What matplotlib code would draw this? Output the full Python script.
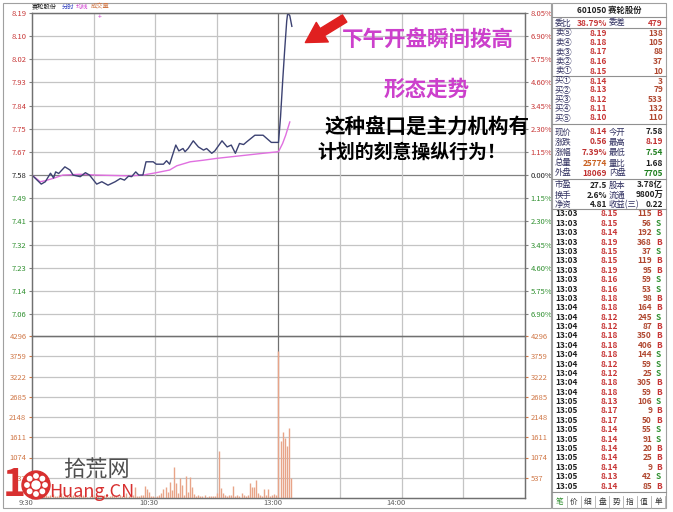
import numpy as np
import matplotlib
matplotlib.use('Agg')
import matplotlib.pyplot as plt
from matplotlib.patches import Rectangle, Circle, FancyArrowPatch
from matplotlib.lines import Line2D
from matplotlib.transforms import Affine2D

plt.rcParams['font.family'] = ['Noto Sans CJK SC', 'DejaVu Sans']

# ---- data ----
prev_close = 7.58
price_min = [0, 4.5, 6.5, 9, 10.5, 11.5, 13, 16, 18.5, 20,
             23.5, 26, 28, 31.5, 34, 37, 40.5, 43, 45, 47,
             48.5, 50.5, 52, 54, 55.5, 59, 60.5, 64, 65.5, 67,
             70, 71.5, 73.5, 74.5, 76, 78.5, 81, 83.5, 85, 87.5,
             89, 92.5, 95, 97, 99, 101, 103, 104.5, 108.5, 112.5,
             116.5, 120, 121, 122, 123, 124, 124.5, 125.5, 126.5]
price_val = [7.58, 7.546, 7.555, 7.587, 7.569, 7.592, 7.586, 7.611, 7.599, 7.58,
             7.574, 7.589, 7.58, 7.546, 7.555, 7.542, 7.555, 7.567, 7.561, 7.576,
             7.574, 7.592, 7.58, 7.58, 7.63, 7.63, 7.621, 7.621, 7.634, 7.621,
             7.693, 7.671, 7.68, 7.668, 7.68, 7.709, 7.686, 7.674, 7.68, 7.662,
             7.671, 7.709, 7.686, 7.693, 7.662, 7.699, 7.695, 7.705, 7.73, 7.73,
             7.703, 7.703, 7.80, 7.93, 8.05, 8.16, 8.19, 8.18, 8.14]
avg_min = [0, 4, 6.5, 10.5, 15, 23.5, 31.5, 47.5, 54, 60.5, 67,
           70.5, 77, 83.5, 90, 99.5, 112.5, 120, 122, 123.5, 125.5]
avg_val = [7.58, 7.555, 7.559, 7.568, 7.58, 7.583, 7.58, 7.577, 7.58, 7.589, 7.599,
           7.615, 7.63, 7.636, 7.643, 7.651, 7.662, 7.668, 7.699, 7.73, 7.78]
volume = [310, 90, 60, 120, 80, 40, 150, 70, 50, 90,
          110, 60, 40, 80, 130, 50, 30, 70, 60, 40,
          90, 50, 30, 60, 40, 80, 50, 30, 60, 100,
          70, 40, 50, 30, 60, 90, 40, 30, 50, 70,
          40, 60, 30, 80, 50, 40, 120, 60, 40, 90,
          280, 60, 40, 90, 70, 320, 250, 170, 60, 40,
          30, 50, 80, 120, 250, 290, 150, 430, 200, 830,
          400, 120, 520, 340, 90, 580, 150, 550, 280, 100,
          60, 80, 50, 40, 70, 30, 60, 50, 40, 60,
          120, 1250, 260, 120, 80, 60, 70, 90, 320, 60,
          90, 50, 120, 80, 60, 70, 390, 280, 290, 480,
          120, 90, 60, 230, 80, 230, 50, 70, 100, 80,
          3900, 1500, 1760, 1580, 1380, 1850, 520]

price_labels = ['8.19', '8.10', '8.02', '7.93', '7.84', '7.75', '7.67', '7.58',
                '7.49', '7.41', '7.32', '7.23', '7.14', '7.06']
pct_labels = ['8.05%', '6.90%', '5.75%', '4.60%', '3.45%', '2.30%', '1.15%', '0.00%',
              '1.15%', '2.30%', '3.45%', '4.60%', '5.75%', '6.90%']
vol_ticks = [537, 1074, 1611, 2148, 2685, 3222, 3759, 4296]
time_labels = ['9:30', '10:30', '13:00', '14:00']
time_pos = [0, 60, 120, 180]

book_names = ['卖⑤', '卖④', '卖③', '卖②', '卖①', '买①', '买②', '买③', '买④', '买⑤']
book_prices = ['8.19', '8.18', '8.17', '8.16', '8.15', '8.14', '8.13', '8.12', '8.11', '8.10']
book_vols = ['138', '105', '88', '37', '10', '3', '79', '533', '132', '110']

info_rows = [('现价', '8.14', '今开', '7.58'),
             ('涨跌', '0.56', '最高', '8.19'),
             ('涨幅', '7.39%', '最低', '7.54'),
             ('总量', '25774', '量比', '1.68'),
             ('外盘', '18069', '内盘', '7705'),
             ('市盈', '27.5', '股本', '3.78亿'),
             ('换手', '2.6%', '流通', '9800万'),
             ('净资', '4.81', '收益(三)', '0.22')]
info_colors = [('#c03030', '#202020'), ('#c03030', '#c03030'), ('#c03030', '#208020'),
               ('#c86020', '#202020'), ('#c03030', '#208020'), ('#202020', '#202020'),
               ('#202020', '#202020'), ('#202020', '#202020')]

trade_time = ['13:03'] * 10 + ['13:04'] * 10 + ['13:05'] * 10
trade_price = ['8.15', '8.15', '8.14', '8.19', '8.15', '8.15', '8.19', '8.16', '8.16', '8.18',
               '8.18', '8.12', '8.12', '8.18', '8.18', '8.18', '8.12', '8.12', '8.18', '8.18',
               '8.13', '8.17', '8.17', '8.14', '8.14', '8.14', '8.14', '8.14', '8.13', '8.14']
trade_vol = ['115', '56', '192', '368', '37', '119', '95', '59', '53', '98',
             '164', '245', '87', '350', '406', '144', '59', '25', '305', '59',
             '106', '9', '50', '55', '91', '20', '25', '9', '42', '85']
trade_side = ['B', 'S', 'S', 'B', 'S', 'B', 'B', 'S', 'S', 'B',
              'B', 'S', 'B', 'B', 'B', 'S', 'S', 'S', 'B', 'B',
              'S', 'B', 'B', 'S', 'S', 'B', 'B', 'B', 'S', 'B']
tabs = ['笔', '价', '细', '盘', '势', '指', '值', '单']

# ---- layout helpers (pixel coords, origin top-left) ----
W, H = 673, 512
tp = Affine2D().scale(1, -1).translate(0, H)


def fx(x):
    return x / W


def fy(y):
    return 1 - y / H


def hline(x0, x1, y, c='#909090', lw=0.8, z=1):
    fig.add_artist(Line2D([x0, x1], [y, y], color=c, lw=lw, transform=tp, zorder=z))


def vline(x, y0, y1, c='#909090', lw=0.8, z=1):
    fig.add_artist(Line2D([x, x], [y0, y1], color=c, lw=lw, transform=tp, zorder=z))


def txt(x, y, s, c='#202020', fs=6, ha='left', **kw):
    fig.text(x, y, s, color=c, fontsize=fs, ha=ha, va='center', transform=tp, **kw)


fig = plt.figure(figsize=(6.73, 5.12), dpi=100)

red = '#c83838'
green = '#309030'
orange = '#d07848'
grid_c = '#c4c4c4'

# ---- price panel ----
steps = list(range(7, -7, -1))
tick_pos = [prev_close * (1 + k * 0.0115) for k in steps]
per_px = (tick_pos[0] - tick_pos[-1]) / (314 - 13)
ylow = tick_pos[-1] - (336 - 314) * per_px

ax = fig.add_axes([fx(32), fy(336), (525 - 32) / W, (336 - 13) / H])
ax.set_xlim(0, 240)
ax.set_ylim(ylow, tick_pos[0])
for t, k in zip(tick_pos, steps):
    ax.axhline(t, color='#808080' if k == 0 else grid_c, lw=0.9, zorder=1)
for m in range(30, 240, 30):
    ax.axvline(m, color='#707070' if m == 120 else grid_c, lw=0.9, zorder=1)
ax.plot(avg_min, avg_val, color='#e070e0', lw=1.0, zorder=3)
ax.plot(price_min, price_val, color='#3c4272', lw=1.0, zorder=4)
ax.set_xticks([])
ax.set_yticks(tick_pos)
ax.set_yticklabels(price_labels)
ax.tick_params(axis='y', labelsize=5.5, length=2, pad=2, color='#808080')
for lab, k in zip(ax.get_yticklabels(), steps):
    lab.set_color(red if k > 0 else ('#202020' if k == 0 else green))
ax2 = ax.twinx()
ax2.set_ylim(ax.get_ylim())
ax2.set_yticks(tick_pos)
ax2.set_yticklabels(pct_labels)
ax2.tick_params(axis='y', labelsize=5.5, length=2, pad=2, color='#808080')
for lab, k in zip(ax2.get_yticklabels(), steps):
    lab.set_color(red if k > 0 else ('#202020' if k == 0 else green))
for a in (ax, ax2):
    for s in a.spines.values():
        s.set_color('#707070')
        s.set_linewidth(0.9)
    a.spines['bottom'].set_visible(False)

# ---- volume panel ----
axv = fig.add_axes([fx(32), fy(498), (525 - 32) / W, (498 - 336) / H])
axv.set_xlim(0, 240)
axv.set_ylim(0, 4296)
for t in vol_ticks:
    axv.axhline(t, color=grid_c, lw=0.9, zorder=1)
for m in range(30, 240, 30):
    axv.axvline(m, color='#707070' if m == 120 else grid_c, lw=0.9, zorder=1)
axv.vlines(np.arange(len(volume)), 0, volume, color='#e8a488', lw=1.0, zorder=3)
axv.set_xticks([])
axv.set_yticks(vol_ticks)
axv.set_yticklabels([str(v) for v in vol_ticks])
axv.tick_params(axis='y', labelsize=5.5, length=2, pad=2, colors=orange)
axv2 = axv.twinx()
axv2.set_ylim(0, 4296)
axv2.set_yticks(vol_ticks)
axv2.set_yticklabels([str(v) for v in vol_ticks])
axv2.tick_params(axis='y', labelsize=5.5, length=2, pad=2, colors=orange)
for a in (axv, axv2):
    for s in a.spines.values():
        s.set_color('#707070')
        s.set_linewidth(0.9)
axv.spines['top'].set_color('#505050')

for lab, m in zip(time_labels, time_pos):
    txt(32 + m * 493 / 240 - 6, 503, lab, c='#606060', fs=5.5, ha='center')

# ---- headers above chart ----
txt(32, 7, '赛轮股份', fs=4.5)
txt(62, 7, '分时', c='#3040c0', fs=4.5)
txt(76, 7, '均线', c='#d040d0', fs=4.5)
txt(91, 7, '成交量', c=orange, fs=4.5)
txt(100, 17, '+', c='#d040d0', fs=5, ha='center')

# ---- frames ----
fig.add_artist(Rectangle((3, 3), 548, 505, fill=False, ec='#a0a0a0', lw=0.8, transform=tp))
fig.add_artist(Rectangle((552, 3), 114, 505, fill=False, ec='#a0a0a0', lw=0.8, transform=tp))

# ---- annotations ----
fig.add_artist(FancyArrowPatch((347, 17), (303, 44), transform=tp, color='#e02020',
                               arrowstyle='simple,head_length=1.3,head_width=1.5,tail_width=0.55',
                               mutation_scale=11, zorder=6))
txt(428, 39, '下午开盘瞬间拨高', c='#cc40cc', fs=15.5, ha='center', fontweight='bold')
txt(427, 89, '形态走势', c='#cc40cc', fs=15.5, ha='center', fontweight='bold')
txt(325, 126, '这种盘口是主力机构有', c='#000000', fs=14.8, fontweight='bold', zorder=7)
txt(317, 152, '计划的刻意操纵行为！', c='#000000', fs=13.6, fontweight='bold')

# ---- right panel (order book) ----
txt(609, 10, '601050 赛轮股份', fs=6, ha='center', fontweight='bold')
for y in (17, 28, 76, 124, 179, 209, 492):
    hline(552, 666, y)
txt(555, 23, '委比', c='#303060')
txt(607, 23, '38.79%', c=red, ha='right', fontweight='bold')
txt(609, 23, '委差', c='#303060')
txt(663, 23, '479', c=red, ha='right', fontweight='bold')
book_y = [33, 42.5, 52, 61.5, 71, 81, 90, 99.5, 108.5, 118]
for nm, p, v, y in zip(book_names, book_prices, book_vols, book_y):
    txt(555, y, nm, c='#303060')
    txt(607, y, p, c=red, ha='right', fontweight='bold')
    txt(663, y, v, c='#b04830', ha='right', fontweight='bold')
info_y = [132, 142, 152.5, 163, 173, 185, 195, 204.5]
for (l1, v1, l2, v2), (c1, c2), y in zip(info_rows, info_colors, info_y):
    txt(555, y, l1, c='#303060')
    txt(607, y, v1, c=c1, ha='right', fontweight='bold')
    txt(609, y, l2, c='#303060')
    txt(663, y, v2, c=c2, ha='right', fontweight='bold')
for i, (t, p, v, sd) in enumerate(zip(trade_time, trade_price, trade_vol, trade_side)):
    y = 214 + i * 9.38
    sc = red if sd == 'B' else green
    txt(555, y, t, fontweight='bold')
    txt(618, y, p, c=red, ha='right', fontweight='bold')
    txt(652, y, v, c='#b04830', ha='right', fontweight='bold')
    txt(656, y, sd, c=sc, fontweight='bold')
for i, tb in enumerate(tabs):
    x = 560 + i * 14
    txt(x, 502, tb, c=green if i == 0 else '#303030', fs=5.5, ha='center')
    vline(x + 7, 496, 508, c='#b0b0b0', lw=0.6)

# ---- watermark ----
fig.text(14, 485, '1', color='#d83030', fontsize=28, fontweight='bold', ha='center',
         va='center', transform=tp, zorder=10)
fig.add_artist(Circle((36, 485), 14, color='#d83030', transform=tp, zorder=10))
for ang in np.arange(0, 360, 45):
    fig.add_artist(Circle((36 + 9 * np.cos(np.radians(ang)), 485 + 9 * np.sin(np.radians(ang))),
                          2.2, color='white', transform=tp, zorder=11))
fig.add_artist(Circle((36, 485), 4, color='white', transform=tp, zorder=11))
fig.text(96, 470, '拾荒网', color='#505050', fontsize=16, ha='center', va='center',
         transform=tp, zorder=10)
fig.text(92, 492, 'Huang.CN', color='#d83030', fontsize=13, ha='center', va='center',
         transform=tp, zorder=10)

fig.savefig('out.png', dpi=100)
